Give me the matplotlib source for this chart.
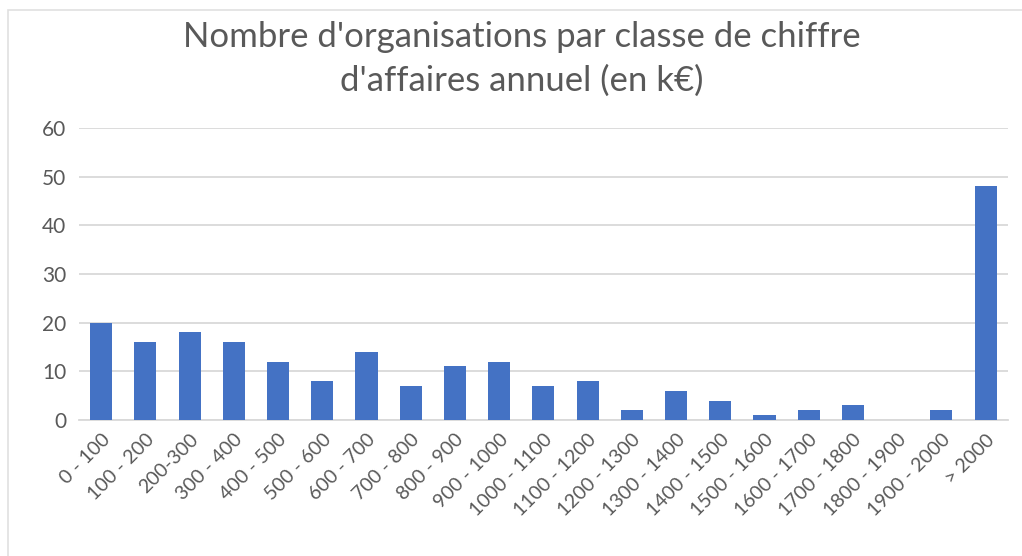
import matplotlib.pyplot as plt
from matplotlib.patches import Rectangle

# Classes de chiffre d'affaires (k€) et nombre d'organisations
categories = ['0 - 100', '100 - 200', '200-300', '300 - 400', '400 - 500', '500 - 600',
              '600 - 700', '700 - 800', '800 - 900', '900 - 1000', '1000 - 1100',
              '1100 - 1200', '1200 - 1300', '1300 - 1400', '1400 - 1500', '1500 - 1600',
              '1600 - 1700', '1700 - 1800', '1800 - 1900', '1900 - 2000', '> 2000']
counts = [20, 16, 18, 16, 12, 8, 14, 7, 11, 12, 7, 8, 2, 6, 4, 1, 2, 3, 0, 2, 48]
yticks = [0, 10, 20, 30, 40, 50, 60]

plt.rcParams['font.family'] = ['Lato', 'DejaVu Sans']
text_grey = '#595959'

fig = plt.figure(figsize=(10.22, 5.56), dpi=100)
ax = fig.add_axes([0.0773, 0.2446, 0.9087, 0.5252])

x = range(len(categories))
ax.bar(x, counts, width=0.5, color='#4472C4', zorder=3)

ax.set_xlim(-0.5, len(categories) - 0.5)
ax.set_ylim(0, 60)
ax.set_yticks(yticks)
ax.set_yticklabels([str(v) for v in yticks], fontsize=15, color=text_grey)
ax.set_xticks(list(x))
ax.set_xticklabels(categories, rotation=45, ha='right', rotation_mode='anchor',
                   fontsize=14, color=text_grey)
ax.tick_params(axis='both', length=0)
ax.tick_params(axis='y', pad=9)
ax.tick_params(axis='x', pad=8)

ax.grid(axis='y', color='#d9d9d9', linewidth=1.3, zorder=0)
for side in ['top', 'right', 'left']:
    ax.spines[side].set_visible(False)
ax.spines['bottom'].set_color('#d9d9d9')
ax.spines['bottom'].set_linewidth(1.3)

fig.text(0.511, 0.962, "Nombre d'organisations par classe de chiffre\nd'affaires annuel (en k€)",
         ha='center', va='top', fontsize=25, color=text_grey, linespacing=1.45)

# cadre du graphique
fig.patches.append(Rectangle((8 / 1022, -0.05), 1.2, 1.05 - 10 / 556,
                             transform=fig.transFigure, fill=False,
                             edgecolor='#e0e0e0', linewidth=1.2))

fig.savefig('out.png', dpi=100)
